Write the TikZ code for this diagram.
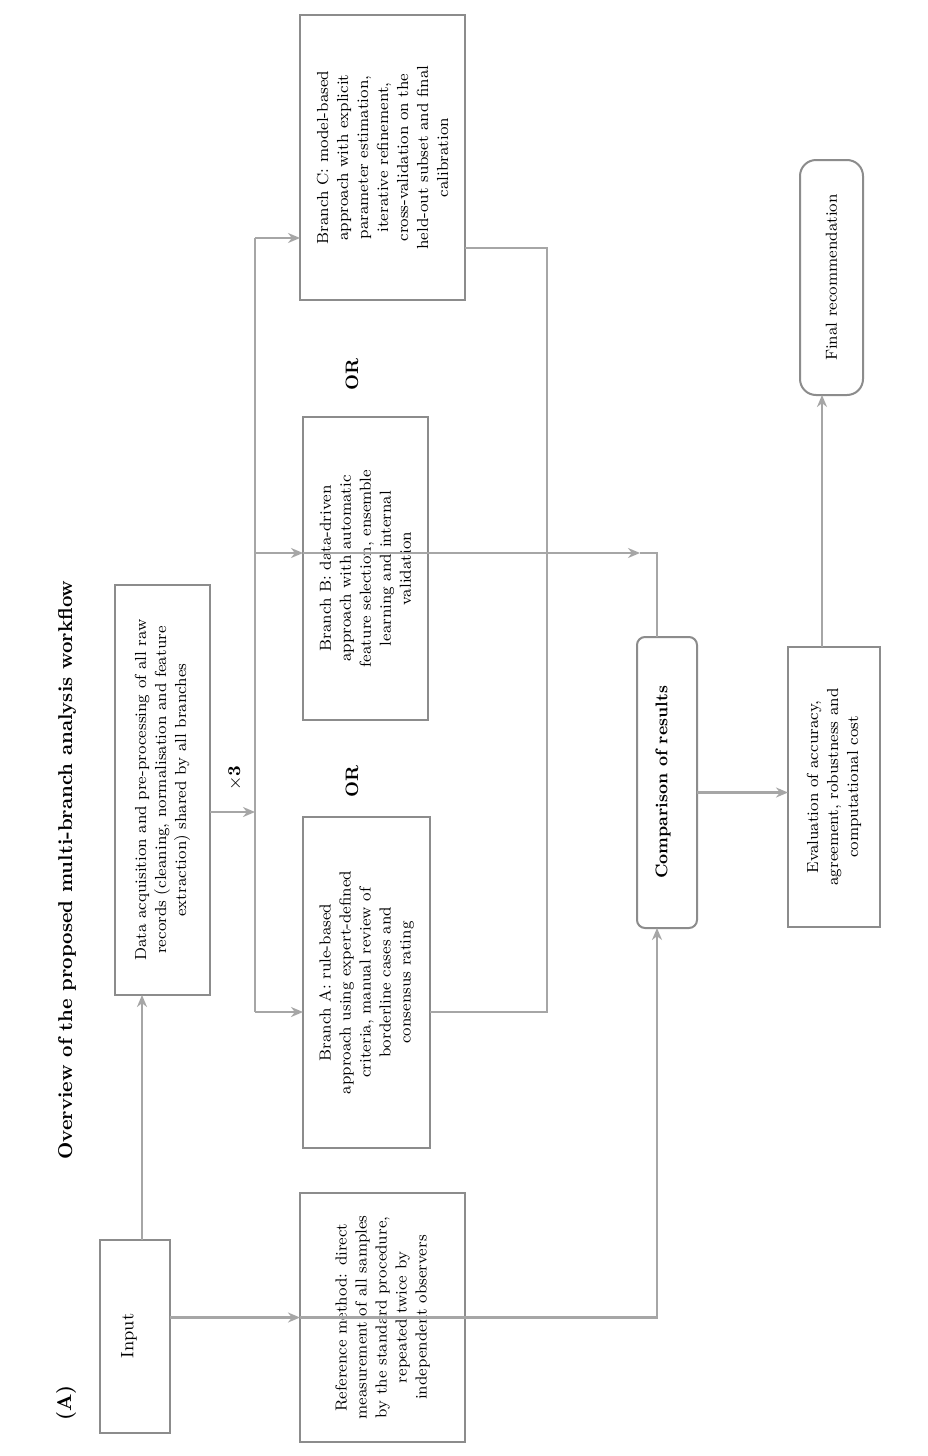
\documentclass[tikz,border=0pt]{standalone}
\usetikzlibrary{arrows.meta}
\newcommand{\rotpar}[2]{\rotatebox{90}{\parbox{#1}{\centering\fontsize{8}{10}\selectfont #2}}}
\begin{document}
\begin{tikzpicture}[x=0.5pt,y=-0.5pt,
  box/.style={draw=black!45, line width=1pt, inner sep=0pt, outer sep=0pt},
  rbox/.style={box, rounded corners=4pt},
  ln/.style={draw=black!35, line width=1.3pt},
  arr/.style={ln, -{Stealth[length=6pt,width=5pt]}},
  lbl/.style={inner sep=0pt, font=\bfseries\fontsize{9}{11}\selectfont, rotate=90}]
\useasboundingbox (0,0) rectangle (927,1456);
\fill[white] (0,0) rectangle (927,1456);

% title row
\node[lbl, font=\bfseries\fontsize{10}{12}\selectfont] (title) at (67,870) {Overview of the proposed multi-branch analysis workflow};
\node[lbl, font=\bfseries\fontsize{10}{12}\selectfont] (tag) at (66,1403) {(A)};

% boxes
\node[box, minimum width=35pt, minimum height=96.5pt] (input) at (135,1336)
  {\rotatebox{90}{\fontsize{9}{11}\selectfont Input}\hspace*{6pt}};
\node[box, minimum width=47.5pt, minimum height=205pt] (big) at (162.5,790)
  {\rotpar{185pt}{Data acquisition and pre-processing of all raw records (cleaning, normalisation and feature extraction) shared by all branches}};
\node[box, minimum width=82.5pt, minimum height=142.5pt] (top) at (382.5,157.5)
  {\rotpar{112pt}{Branch C: model-based approach with explicit parameter estimation, iterative refinement, cross-validation on the held-out subset and final calibration}};
\node[box, minimum width=62.5pt, minimum height=151.5pt] (mid) at (365.5,568.5)
  {\rotpar{110pt}{Branch B: data-driven approach with automatic feature selection, ensemble learning and internal validation}};
\node[box, minimum width=63.5pt, minimum height=165.5pt] (low) at (366.5,982.5)
  {\rotpar{112pt}{Branch A: rule-based approach using expert-defined criteria, manual review of borderline cases and consensus rating}};
\node[box, minimum width=82.5pt, minimum height=124.5pt] (bot) at (382.5,1317.5)
  {\rotpar{106pt}{Reference method: direct measurement of all samples by the standard procedure, repeated twice by independent observers}};
\node[rbox, minimum width=30pt, minimum height=145.5pt] (narrow) at (667,782.5)
  {\rotatebox{90}{\bfseries\fontsize{8.5}{10}\selectfont Comparison of results}\hspace*{4pt}};
\node[box, minimum width=46pt, minimum height=140pt] (out) at (834,787)
  {\rotpar{108pt}{Evaluation of accuracy, agreement, robustness and computational cost}};
\node[rbox, rounded corners=8pt, minimum width=31.5pt, minimum height=117.5pt] (final) at (831.5,277.5)
  {\rotatebox{90}{\fontsize{8}{10}\selectfont Final recommendation}};

% labels
\node[lbl] (lx) at (235,778) {$\times$3};
\node[lbl] (or1) at (352,375) {OR};
\node[lbl] (or2) at (352,782) {OR};

% helper coordinates
\coordinate (bT) at (255,238);
\coordinate (bM) at (255,553);
\coordinate (bL) at (255,812);
\coordinate (bB) at (255,1012);
\coordinate (rT) at (547,248);
\coordinate (rB) at (547,1012);
\coordinate (j) at (640,553);

% connectors
\draw[arr] (input.north -| 142,0) -- (big.south -| 142,0);
\draw[arr] (bot.west -| input.east) -- (bot.west);
\draw[ln] (bot.west) -- (bot.east);
\draw[arr] (bot.east) -| ([xshift=-5pt]narrow.south);
\draw[arr] (big.east |- bL) -- (bL);
\draw[ln] (bT) -- (bB);
\draw[arr] (bT) -- (bT -| top.west);
\draw[arr] (bM) -- (bM -| mid.west);
\draw[arr] (bB) -- (bB -| low.west);
\draw[ln] (rT -| top.east) -- (rT) -- (rB) -- (rB -| low.east);
\draw[ln] (bM -| mid.west) -- (bM -| mid.east);
\draw[arr] (bM -| mid.east) -- (j);
\draw[ln] (j) -| ([xshift=-5pt]narrow.north);
\draw[arr] ([yshift=-5pt]narrow.east) -- ([yshift=-5pt]narrow.east -| out.west);
\draw[arr] ([xshift=-6pt]out.north) -- ([xshift=-6pt]out.north |- final.south);
\end{tikzpicture}
\end{document}
